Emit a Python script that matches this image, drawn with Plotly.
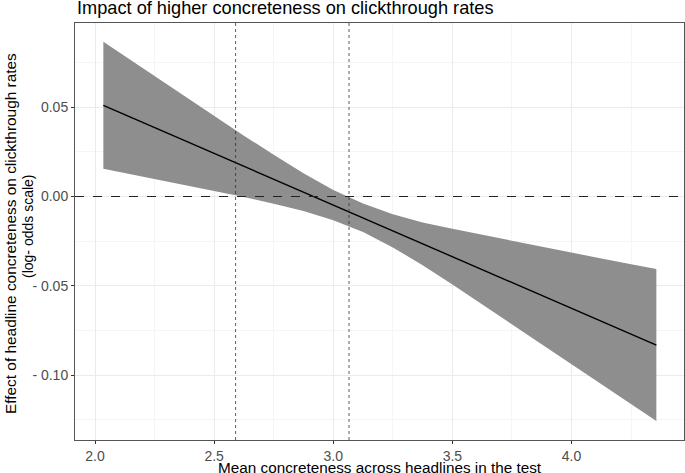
import plotly.graph_objects as go

# Data
x_vals = [2.035, 2.125, 2.25, 2.375, 2.5, 2.625, 2.75, 2.875, 3.0, 3.125, 3.25,
          3.375, 3.5, 3.625, 3.75, 3.875, 4.0, 4.125, 4.25, 4.356]
fit = [0.0511, 0.0459, 0.0387, 0.0314, 0.0242, 0.0169, 0.0097, 0.0025, -0.0048, -0.0120, -0.0193,
       -0.0265, -0.0337, -0.0410, -0.0482, -0.0554, -0.0627, -0.0699, -0.0771, -0.0833]
upper = [0.0867, 0.0786, 0.0674, 0.0562, 0.0451, 0.0341, 0.0234, 0.0131, 0.0037, -0.0039, -0.0100,
         -0.0145, -0.0181, -0.0215, -0.0249, -0.0282, -0.0315, -0.0347, -0.0379, -0.0406]
lower = [0.0156, 0.0132, 0.0100, 0.0066, 0.0033, -0.0003, -0.0040, -0.0081, -0.0133, -0.0199, -0.0285,
         -0.0385, -0.0493, -0.0604, -0.0715, -0.0826, -0.0939, -0.1051, -0.1163, -0.1258]
vlines = [2.59, 3.066]
hline = 0.0

x_ticks = [2.0, 2.5, 3.0, 3.5, 4.0]
x_ticktext = ["2.0", "2.5", "3.0", "3.5", "4.0"]
y_ticks = [0.05, 0.0, -0.05, -0.10]
y_ticktext = ["0.05", "0.00", "- 0.05", "- 0.10"]

title = "Impact of higher concreteness on clickthrough rates"
x_title = "Mean concreteness across headlines in the test"
y_title1 = "Effect of headline concreteness on clickthrough rates"
y_title2 = "(log- odds scale)"

FONT = "Liberation Sans, Arial, Helvetica, sans-serif"
W, H = 685, 473
L, R, T, B = 75, 1, 23, 33
pw = W - L - R
ph = H - T - B

fig = go.Figure()
fig.add_trace(go.Scatter(x=x_vals, y=upper, mode="lines", line=dict(width=0),
                         hoverinfo="skip", showlegend=False))
fig.add_trace(go.Scatter(x=x_vals, y=lower, mode="lines", line=dict(width=0),
                         fill="tonexty", fillcolor="#8e8e8e", hoverinfo="skip", showlegend=False))
fig.add_trace(go.Scatter(x=x_vals, y=fit, mode="lines", line=dict(color="black", width=1.4),
                         showlegend=False))

for v in vlines:
    fig.add_shape(type="line", x0=v, x1=v, xref="x", y0=0, y1=1, yref="y domain",
                  line=dict(color="#333333", width=0.8, dash="dot"), layer="above")
fig.add_shape(type="line", x0=0, x1=1, xref="x domain", y0=hline, y1=hline, yref="y",
              line=dict(color="#222222", width=1, dash="dash"), layer="above")

fig.update_layout(
    width=W, height=H,
    margin=dict(l=L, r=R, t=T, b=B, autoexpand=False),
    paper_bgcolor="white", plot_bgcolor="white",
    font=dict(family=FONT, color="black"),
    showlegend=False,
    xaxis=dict(range=[1.916, 4.472], tickvals=x_ticks, ticktext=x_ticktext, automargin=False,
               showgrid=True, gridcolor="#ebebeb", gridwidth=1,
               minor=dict(dtick=0.25, tick0=0, showgrid=True, gridcolor="#f5f5f5", gridwidth=0.6),
               ticks="outside", ticklen=3, tickcolor="#333333",
               tickfont=dict(size=14, color="#4d4d4d", family=FONT),
               showline=True, linecolor="#555555", linewidth=1, mirror=True, zeroline=False),
    yaxis=dict(range=[-0.1364, 0.0972], tickvals=y_ticks, ticktext=y_ticktext, automargin=False,
               showgrid=True, gridcolor="#ebebeb", gridwidth=1,
               minor=dict(dtick=0.025, tick0=0, showgrid=True, gridcolor="#f5f5f5", gridwidth=0.6),
               ticks="outside", ticklen=3, tickcolor="#333333",
               tickfont=dict(size=14, color="#4d4d4d", family=FONT),
               showline=True, linecolor="#555555", linewidth=1, mirror=True, zeroline=False),
    annotations=[
        dict(text=title, x=0, y=1 + (T - 7.5) / ph, xref="paper", yref="paper", showarrow=False,
             xanchor="left", yanchor="middle", font=dict(size=18.2, color="black", family=FONT)),
        dict(text=x_title, x=0.5, y=-(467 - (H - B)) / ph, xref="paper", yref="paper", showarrow=False,
             xanchor="center", yanchor="middle", font=dict(size=15.3, color="black", family=FONT)),
        dict(text=y_title1, x=-(L - 11) / pw, y=((H - B) - 234) / ph, xref="paper", yref="paper",
             showarrow=False, textangle=-90, xanchor="center", yanchor="middle",
             font=dict(size=15.4, color="black", family=FONT)),
        dict(text=y_title2, x=-(L - 28) / pw, y=((H - B) - 226) / ph, xref="paper", yref="paper",
             showarrow=False, textangle=-90, xanchor="center", yanchor="middle",
             font=dict(size=14, color="black", family=FONT)),
    ],
)

fig.write_html("out.html", config={"displayModeBar": False},
               post_script="document.body.style.margin='0';document.body.style.overflow='hidden';")
